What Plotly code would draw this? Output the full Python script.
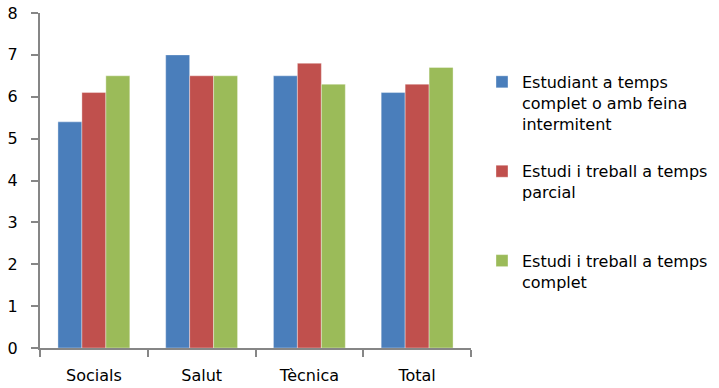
import plotly.graph_objects as go

categories = ["Socials", "Salut", "Tècnica", "Total"]
series_names = [
    "Estudiant a temps<br>complet o amb feina<br>intermitent",
    "Estudi i treball a temps<br>parcial<br> ",
    "Estudi i treball a temps<br>complet",
]
estudiant = [5.4, 7.0, 6.5, 6.1]
treball_parcial = [6.1, 6.5, 6.8, 6.3]
treball_complet = [6.5, 6.5, 6.3, 6.7]
colors = ["#4A7EBB", "#C0504D", "#9BBB59"]
y_ticks = [0, 1, 2, 3, 4, 5, 6, 7, 8]

font_family = "DejaVu Sans"

fig = go.Figure()
for i, (name, vals, col) in enumerate(zip(series_names,
                                           [estudiant, treball_parcial, treball_complet],
                                           colors)):
    fig.add_trace(go.Bar(
        x=categories, y=vals, name=name,
        marker=dict(color=col, line=dict(color="rgba(255,255,255,0.6)", width=0.6)),
        legendgroup=f"g{i}",
    ))

axis_color = "#868686"
fig.update_layout(
    width=719, height=388,
    margin=dict(l=40, r=248, t=13, b=40, autoexpand=False),
    paper_bgcolor="white", plot_bgcolor="white",
    barmode="group", bargap=0.333, bargroupgap=0,
    font=dict(family=font_family, size=16, color="#000000"),
    showlegend=True,
    legend=dict(
        x=1.0255, xanchor="left", y=0.845, yanchor="top",
        valign="top", tracegroupgap=24,
        font=dict(family=font_family, size=16, color="#000000"),
        bgcolor="rgba(0,0,0,0)",
    ),
    xaxis=dict(
        showline=True, linecolor=axis_color, linewidth=2,
        ticks="outside", tickson="boundaries", ticklen=7,
        tickcolor=axis_color, tickwidth=2,
        showgrid=False, zeroline=False, automargin=False,
        ticklabelstandoff=12,
    ),
    yaxis=dict(
        range=[0, 8], tickvals=y_ticks, showline=True,
        linecolor=axis_color, linewidth=2,
        ticks="outside", ticklen=7, tickcolor=axis_color, tickwidth=2,
        showgrid=False, zeroline=False, automargin=False,
        ticklabelstandoff=10,
    ),
)

fig.write_html("out.html")
